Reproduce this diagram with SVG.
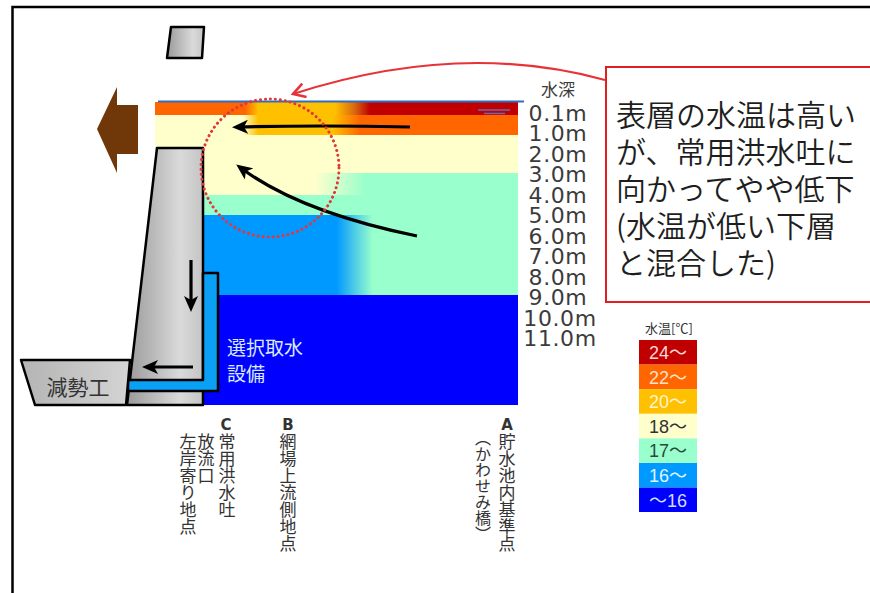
<svg xmlns="http://www.w3.org/2000/svg" width="870" height="593" viewBox="0 0 870 593">
  <style>
    .jp { font-family: "Noto Sans CJK JP", "Noto Sans", sans-serif; }
    .depth { font-family: "DejaVu Sans", "Liberation Sans", sans-serif; font-size: 22px; letter-spacing: 0.6px; fill: #3c3c3c; text-anchor: middle; }
    .callout { font-family: "Noto Sans CJK JP", sans-serif; font-size: 30px; font-weight: 350; fill: #1e1e1e; }
    .vert { font-family: "Noto Sans CJK JP", sans-serif; font-size: 17px; fill: #333; writing-mode: vertical-rl; }
    .pt { font-family: "DejaVu Sans", "Liberation Sans", sans-serif; font-weight: bold; font-size: 15px; fill: #333; text-anchor: middle; }
    .leg { font-family: "Liberation Sans", "Noto Sans CJK JP", sans-serif; font-size: 18px; text-anchor: middle; }
    .arrow { fill: none; stroke: #000; stroke-width: 3.2; }
    .outline { stroke: #000; stroke-width: 2.5; stroke-linejoin: round; }
  </style>
  <defs>
    <linearGradient id="concrete" x1="0" y1="0" x2="1" y2="0">
      <stop offset="0" stop-color="#9a9a9a"/>
      <stop offset="0.7" stop-color="#dadada"/>
      <stop offset="1" stop-color="#c4c4c4"/>
    </linearGradient>
    <linearGradient id="basin" x1="0" y1="0" x2="1" y2="0">
      <stop offset="0" stop-color="#b4b4b4"/>
      <stop offset="1" stop-color="#d4d4d4"/>
    </linearGradient>
    <!-- horizontal temperature transitions across the reservoir (x 155..518) -->
    <linearGradient id="rowA" gradientUnits="userSpaceOnUse" x1="155" y1="0" x2="518" y2="0">
      <stop offset="0" stop-color="#ff6600"/>
      <stop offset="0.248" stop-color="#ff6600"/>
      <stop offset="0.284" stop-color="#ffc000"/>
      <stop offset="0.496" stop-color="#ffc000"/>
      <stop offset="0.55" stop-color="#d86810"/>
      <stop offset="0.592" stop-color="#c00000"/>
      <stop offset="1" stop-color="#c00000"/>
    </linearGradient>
    <linearGradient id="rowB" gradientUnits="userSpaceOnUse" x1="155" y1="0" x2="518" y2="0">
      <stop offset="0" stop-color="#ffffcc"/>
      <stop offset="0.242" stop-color="#ffffcc"/>
      <stop offset="0.284" stop-color="#ffc000"/>
      <stop offset="0.49" stop-color="#ffc000"/>
      <stop offset="0.565" stop-color="#ff6600"/>
      <stop offset="1" stop-color="#ff6600"/>
    </linearGradient>
    <linearGradient id="rowD" gradientUnits="userSpaceOnUse" x1="155" y1="0" x2="518" y2="0">
      <stop offset="0" stop-color="#ffffcc"/>
      <stop offset="0.441" stop-color="#ffffcc"/>
      <stop offset="0.579" stop-color="#99ffcc"/>
      <stop offset="1" stop-color="#99ffcc"/>
    </linearGradient>
    <linearGradient id="rowF" gradientUnits="userSpaceOnUse" x1="155" y1="0" x2="518" y2="0">
      <stop offset="0" stop-color="#0099ff"/>
      <stop offset="0.5" stop-color="#0099ff"/>
      <stop offset="0.6" stop-color="#99ffcc"/>
      <stop offset="1" stop-color="#99ffcc"/>
    </linearGradient>
    <marker id="head" viewBox="0 0 16 14" refX="10" refY="7" markerWidth="16" markerHeight="14" markerUnits="userSpaceOnUse" orient="auto">
      <path d="M0,0 L16,7 L0,14 L4,7 z" fill="#000"/>
    </marker>
    <marker id="headRed" viewBox="0 0 16 16" refX="14" refY="8" markerWidth="16" markerHeight="16" markerUnits="userSpaceOnUse" orient="auto">
      <path d="M2,1 L14,8 L2,15" fill="none" stroke="#e8323a" stroke-width="2.6"/>
    </marker>
  </defs>

  <rect width="870" height="593" fill="#fff"/>
  <!-- frame -->
  <path d="M12.5,593 V7 H870" fill="none" stroke="#000" stroke-width="2.5"/>

  <!-- reservoir temperature layers -->
  <g id="reservoir">
    <rect x="155" y="102" width="363" height="13" fill="url(#rowA)"/>
    <rect x="155" y="115" width="363" height="20" fill="url(#rowB)"/>
    <rect x="155" y="135" width="363" height="38" fill="#ffffcc"/>
    <rect x="155" y="173" width="363" height="22" fill="url(#rowD)"/>
    <rect x="155" y="195" width="363" height="20" fill="#99ffcc"/>
    <rect x="155" y="215" width="363" height="80" fill="url(#rowF)"/>
    <rect x="155" y="295" width="363" height="110" fill="#0000ff"/>
    <line x1="158" y1="101.5" x2="524" y2="101.5" stroke="#2f6fc0" stroke-width="2"/>
    <line x1="478" y1="110" x2="510" y2="110" stroke="#6a6ab8" stroke-width="1.5"/>
    <line x1="484" y1="113.5" x2="505" y2="113.5" stroke="#6a6ab8" stroke-width="1.5"/>
  </g>

  <!-- dam body -->
  <g id="dam">
    <polygon class="outline" points="157,148 203,148 203,405 127,405" fill="url(#concrete)"/>
  </g>

  <!-- selective intake channel -->
  <g id="intake">
    <path class="outline" d="M203,273 H218 V391 H128 V380 H203 Z" fill="#0aa0f5"/>
    <text class="jp" x="227" y="355" font-size="19" fill="#d8ecff">選択取水</text>
    <text class="jp" x="227" y="381" font-size="19" fill="#d8ecff">設備</text>
  </g>

  <!-- stilling basin -->
  <g id="basin-node">
    <polygon class="outline" points="21,360 130,360 126,405 35,405" fill="url(#basin)"/>
    <text class="jp" x="78" y="395" font-size="21" fill="#333" text-anchor="middle">減勢工</text>
  </g>

  <!-- tower top -->
  <g id="tower">
    <polygon class="outline" points="171,27 204,27 202,58 167,58" fill="url(#concrete)"/>
  </g>

  <!-- outflow arrow -->
  <g id="outflow">
    <polygon points="97,129 117,87 117,105 138,105 138,154 117,154 117,173" fill="#703808"/>
  </g>

  <!-- flow connectors -->
  <g id="connectors">
    <path class="arrow" d="M410,127 Q320,125 238,127" marker-end="url(#head)"/>
    <path class="arrow" d="M417,236 Q300,212 241,168" marker-end="url(#head)"/>
    <path class="arrow" d="M191,260 V306" marker-end="url(#head)"/>
    <path class="arrow" d="M193,367 H148" marker-end="url(#head)"/>
    <path d="M605,80 Q460,40 293,94" fill="none" stroke="#e8323a" stroke-width="2.2" marker-end="url(#headRed)"/>
    <circle cx="270" cy="168" r="69" fill="none" stroke="#e0383c" stroke-width="3" stroke-dasharray="0.1 4.9" stroke-linecap="round"/>
  </g>

  <!-- depth scale -->
  <g id="depth-scale">
    <text class="jp" x="558" y="96" font-size="17" fill="#3c3c3c" text-anchor="middle">水深</text>
    <text class="depth" x="558" y="120.5">0.1m</text>
    <text class="depth" x="558" y="141">1.0m</text>
    <text class="depth" x="558" y="161.5">2.0m</text>
    <text class="depth" x="558" y="182">3.0m</text>
    <text class="depth" x="558" y="202.5">4.0m</text>
    <text class="depth" x="558" y="223">5.0m</text>
    <text class="depth" x="558" y="243.5">6.0m</text>
    <text class="depth" x="558" y="264">7.0m</text>
    <text class="depth" x="558" y="284.5">8.0m</text>
    <text class="depth" x="558" y="305">9.0m</text>
    <text class="depth" x="560" y="325.5">10.0m</text>
    <text class="depth" x="560" y="346">11.0m</text>
  </g>

  <!-- callout -->
  <g id="callout">
    <rect x="606" y="67" width="280" height="235" fill="#fff" stroke="#e02020" stroke-width="2"/>
    <text class="callout" x="616" y="126">表層の水温は高い</text>
    <text class="callout" x="616" y="163">が、常用洪水吐に</text>
    <text class="callout" x="616" y="200">向かってやや低下</text>
    <text class="callout" x="616" y="237">(水温が低い下層</text>
    <text class="callout" x="616" y="274">と混合した)</text>
  </g>

  <!-- temperature legend -->
  <g id="legend">
    <text class="jp" x="669" y="333" font-size="13" fill="#333" text-anchor="middle">水温[℃]</text>
    <rect x="639" y="340" width="58" height="24.6" fill="#c00000"/>
    <rect x="639" y="364.6" width="58" height="24.6" fill="#ff6600"/>
    <rect x="639" y="389.2" width="58" height="24.6" fill="#ffc000"/>
    <rect x="639" y="413.8" width="58" height="24.6" fill="#ffffcc"/>
    <rect x="639" y="438.4" width="58" height="24.6" fill="#99ffcc"/>
    <rect x="639" y="463" width="58" height="24.6" fill="#0099ff"/>
    <rect x="639" y="487.6" width="58" height="24.4" fill="#0000ff"/>
    <text class="leg" x="668" y="359" fill="#ffd6d6">24～</text>
    <text class="leg" x="668" y="383.6" fill="#ffe0c8">22～</text>
    <text class="leg" x="668" y="408.2" fill="#fff4d0">20～</text>
    <text class="leg" x="668" y="432.8" fill="#333">18～</text>
    <text class="leg" x="668" y="457.4" fill="#2a4a3a">17～</text>
    <text class="leg" x="668" y="482" fill="#e0f2ff">16～</text>
    <text class="leg" x="668" y="506.6" fill="#d0dcff">～16</text>
  </g>

  <!-- observation points -->
  <g id="point-c">
    <text class="pt" x="226" y="430">C</text>
    <text class="vert" x="227" y="433">常用洪水吐</text>
    <text class="vert" x="206" y="433">放流口</text>
    <text class="vert" x="188" y="433">左岸寄り地点</text>
  </g>
  <g id="point-b">
    <text class="pt" x="288" y="430">B</text>
    <text class="vert" x="288" y="433">網場上流側地点</text>
  </g>
  <g id="point-a">
    <text class="pt" x="507" y="430">A</text>
    <text class="vert" x="507" y="433">貯水池内基準点</text>
    <text class="vert" x="483" y="430" style="font-size:16px">（かわせみ橋）</text>
  </g>
</svg>
